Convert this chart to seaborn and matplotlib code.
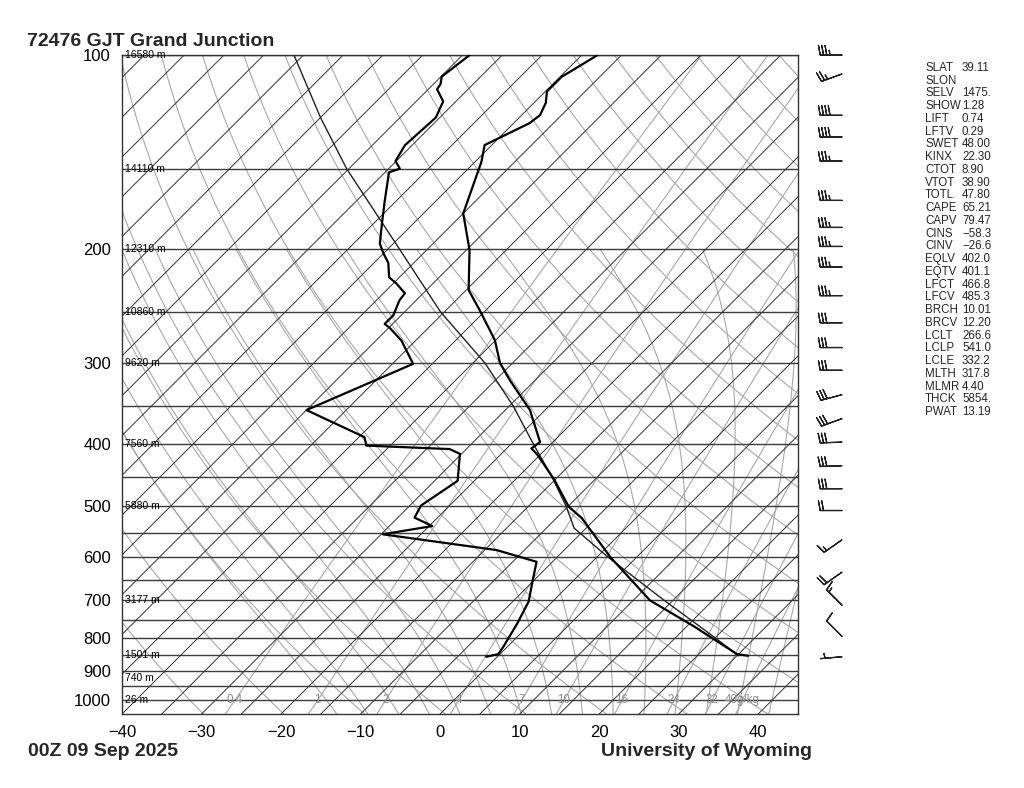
import numpy as np
import pandas as pd
import matplotlib
matplotlib.use('Agg')
import matplotlib.pyplot as plt
import seaborn as sns

sns.set_theme(style='white')
plt.rcParams['font.family'] = ['Liberation Sans', 'DejaVu Sans']

# sounding (pressure hPa, temperature C)
temp_p = [853, 848, 768, 700, 600, 522, 501, 455, 416, 407, 398, 355, 319, 300, 276.6,
          248.9, 231.3, 200.6, 176, 146.4, 137.9, 127.5, 123.9, 118.7, 113.9, 108.1, 100]
temp_t = [31.4, 29.8, 20.9, 12.1, 1.7, -6.8, -9.9, -15.1, -20.4, -21.9, -21.6, -26.9, -33.2, -36.6, -40.1,
          -45.7, -49.7, -54.6, -60.0, -64.2, -65.9, -63.0, -62.7, -63.5, -64.8, -64.8, -63.0]

dwpt_p = [856, 848, 826, 759, 703, 653, 610, 585, 553, 537, 521, 499, 457, 415, 408, 403, 391,
          355, 301, 277, 265, 261, 253, 240, 234, 226, 221, 210, 203, 196, 181, 168, 152, 150,
          146, 138, 125, 118, 113, 111, 108, 106, 100]
dwpt_t = [-1.4, -0.2, -0.5, -1.7, -3.0, -5.1, -7.0, -13.5, -29.8, -24.6, -27.9, -28.6, -27.1, -30.2, -32.1, -43.0, -44.3,
          -55.0, -47.4, -51.8, -54.8, -56.0, -56.0, -57.1, -57.3, -59.6, -61.3, -63.2, -65.0, -66.7, -69.2, -71.5, -74.5, -73.6,
          -75.1, -75.9, -75.5, -76.6, -78.9, -79.1, -79.9, -79.7, -79.1]

# lifted parcel
parcel_p = [853, 800, 700, 600, 541, 500, 450, 400, 350, 300, 250, 200, 150, 125, 100]
parcel_t = [30.2, 25.0, 13.9, 1.4, -6.5, -10.3, -15.8, -22.3, -29.5, -38.5, -50.5, -63.5, -80.3, -90.0, -101.2]

# winds (hPa, deg, knots)
wind_p = [100, 107, 124, 134, 146, 168, 185, 198, 213, 236, 260, 284, 308, 336, 366, 398,
          433, 470, 508, 564, 633, 712, 796, 856]
wind_dir = [270, 250, 270, 270, 270, 270, 270, 270, 270, 270, 270, 270, 270, 255, 250, 268,
            268, 270, 270, 235, 235, 315, 315, 265]
wind_spd = [35, 25, 40, 40, 35, 35, 35, 35, 35, 35, 30, 30, 30, 30, 30, 30,
            30, 30, 20, 15, 20, 15, 10, 5]

height_p = [100, 150, 200, 250, 300, 400, 500, 700, 850, 925, 1000]
height_lbl = ['16580 m', '14110 m', '12310 m', '10860 m', '9620 m', '7560 m', '5880 m',
              '3177 m', '1501 m', '740 m', '26 m']

isobars = [100, 150, 200, 250, 300, 350, 400, 450, 500, 550, 600, 650, 700, 750, 800,
           850, 900, 950, 1000]
p_ticks = [100, 200, 300, 400, 500, 600, 700, 800, 900, 1000]
t_ticks = [-40, -30, -20, -10, 0, 10, 20, 30, 40]

mixr_vals = [0.4, 1, 2, 4, 7, 10, 16, 24, 32, 40]
mixr_lbls = ['0.4', '1', '2', '4', '7', '10', '16', '24', '32', '40g/kg']

dry_theta = np.arange(230, 470, 10)          # K
moist_tw = np.arange(-16, 44, 4)             # C at 1000 hPa

index_names = ['SLAT', 'SLON', 'SELV', 'SHOW', 'LIFT', 'LFTV', 'SWET', 'KINX', 'CTOT', 'VTOT',
               'TOTL', 'CAPE', 'CAPV', 'CINS', 'CINV', 'EQLV', 'EQTV', 'LFCT', 'LFCV', 'BRCH',
               'BRCV', 'LCLT', 'LCLP', 'LCLE', 'MLTH', 'MLMR', 'THCK', 'PWAT']
index_vals = ['39.11', '', '1475.', '1.28', '0.74', '0.29', '48.00', '22.30', '8.90', '38.90',
              '47.80', '65.21', '79.47', '\u221258.3', '\u221226.6', '402.0', '401.1', '466.8', '485.3', '10.01',
              '12.20', '266.6', '541.0', '332.2', '317.8', '4.40', '5854.', '13.19']

P_BOT, P_TOP = 1050, 100
X_MIN, X_MAX = -40, 45
SKEW = 81.1   # deg C of shift per decade of pressure (45 deg isotherms)


def skew_x(t, p):
    return np.asarray(t, dtype=float) + SKEW * np.log10(P_BOT / np.asarray(p, dtype=float))


def td_from_mixr(w, p):
    e = w * p / (622.0 + w)
    a = np.log(e / 6.112)
    return 243.5 * a / (17.67 - a)


def moist_adiabat(t0, p):
    # pseudo-adiabat from 1000 hPa, integrated both ways
    Rd, cp, Lv, eps = 287.04, 1005.7, 2.501e6, 0.622

    def dtdp(t, pp):
        es = 6.112 * np.exp(17.67 * (t - 273.15) / (t - 29.65))
        rs = eps * es / (pp - es)
        return (Rd * t + Lv * rs) / (pp * (cp + Lv * Lv * rs * eps / (Rd * t * t)))

    out = []
    for target in p:
        t = t0 + 273.15
        pp = 1000.0
        n = 60
        h = (target - pp) / n
        for _ in range(n):
            k1 = dtdp(t, pp)
            k2 = dtdp(t + 0.5 * h * k1, pp + 0.5 * h)
            k3 = dtdp(t + 0.5 * h * k2, pp + 0.5 * h)
            k4 = dtdp(t + h * k3, pp + h)
            t += h * (k1 + 2 * k2 + 2 * k3 + k4) / 6
            pp += h
        out.append(t - 273.15)
    return np.array(out)


fig = plt.figure(figsize=(10.24, 7.88), dpi=100)
ax = fig.add_axes([122 / 1024, 74 / 788, 676 / 1024, 659 / 788])
ax.set_yscale('log')

plevs = np.geomspace(P_BOT, P_TOP, 80)
grey = '#a8a8a8'

# isobars
for p in isobars:
    ax.axhline(p, color='#3c3c3c', lw=1.0, zorder=2)

# isotherms
for t in range(-125, 50, 5):
    ax.plot(skew_x([t, t], [P_BOT, P_TOP]), [P_BOT, P_TOP], color='#333333', lw=0.7, zorder=2)

# dry adiabats
for th in dry_theta:
    tt = th * (plevs / 1000.0) ** 0.286 - 273.15
    ax.plot(skew_x(tt, plevs), plevs, color=grey, lw=0.8, zorder=1)

# moist adiabats
mp = np.geomspace(P_BOT, 200, 30)
for tw in moist_tw:
    ax.plot(skew_x(moist_adiabat(tw, mp), mp), mp, color=grey, lw=0.8, zorder=1)

# mixing ratio lines
for w, lbl in zip(mixr_vals, mixr_lbls):
    td = td_from_mixr(w, plevs)
    ax.plot(skew_x(td, plevs), plevs, color=grey, lw=0.8, zorder=1)
    ax.text(skew_x(td_from_mixr(w, 1000), 1000), 1000, lbl, color='#8a8a8a', fontsize=8.3,
            ha='center', va='center', zorder=3)

# sounding
snd_t = pd.DataFrame({'x': skew_x(temp_t, temp_p), 'p': temp_p})
snd_d = pd.DataFrame({'x': skew_x(dwpt_t, dwpt_p), 'p': dwpt_p})
snd_pc = pd.DataFrame({'x': skew_x(parcel_t, parcel_p), 'p': parcel_p})
sns.lineplot(data=snd_pc, x='x', y='p', sort=False, estimator=None, color='#222222', lw=1.0, ax=ax, zorder=4)
sns.lineplot(data=snd_t, x='x', y='p', sort=False, estimator=None, color='black', lw=1.6, ax=ax, zorder=5)
sns.lineplot(data=snd_d, x='x', y='p', sort=False, estimator=None, color='black', lw=1.6, ax=ax, zorder=5)

# height labels
for p, lbl in zip(height_p, height_lbl):
    ax.text(0.004, p, lbl, transform=ax.get_yaxis_transform(), fontsize=7.5,
            ha='left', va='center', color='black', zorder=6)

ax.set_xlim(X_MIN, X_MAX)
ax.set_ylim(P_BOT, P_TOP)
ax.set_yticks(p_ticks)
ax.set_yticklabels([str(p) for p in p_ticks])
ax.yaxis.set_minor_locator(matplotlib.ticker.NullLocator())
ax.set_xticks(t_ticks)
ax.set_xticklabels([str(t).replace('-', '\u2212') for t in t_ticks])
ax.tick_params(axis='y', length=0, labelsize=12, pad=8, colors='black')
ax.tick_params(axis='x', length=0, labelsize=12, pad=8, colors='black')
ax.set_xlabel('')
ax.set_ylabel('')
for s in ax.spines.values():
    s.set_color('#333333')
    s.set_linewidth(1.0)

# wind barbs
axb = fig.add_axes([800 / 1024, 74 / 788, 80 / 1024, 659 / 788])
axb.set_yscale('log')
axb.set_ylim(P_BOT, P_TOP)
axb.set_xlim(0, 80)
axb.axis('off')
wd = np.deg2rad(wind_dir)
u = -np.array(wind_spd) * np.sin(wd)
v = -np.array(wind_spd) * np.cos(wd)
axb.barbs(np.full(len(wind_p), 42.0), wind_p, u, v, length=5.6, lw=0.9, color='#222222',
          sizes=dict(spacing=0.15, height=0.44, width=0.16, emptybarb=0.0), clip_on=False)

# titles
fig.text(27 / 1024, 1 - 41 / 788, '72476 GJT Grand Junction', fontsize=14, fontweight='bold',
         ha='left', va='center')
fig.text(28 / 1024, 1 - 751 / 788, '00Z 09 Sep 2025', fontsize=14, fontweight='bold',
         ha='left', va='center')
fig.text(812 / 1024, 1 - 751 / 788, 'University of Wyoming', fontsize=14, fontweight='bold',
         ha='right', va='center')

# stability indices
for i, (n, val) in enumerate(zip(index_names, index_vals)):
    y = 1 - (68 + i * 12.74) / 788
    fig.text(925 / 1024, y, n, fontsize=8.3, ha='left', va='center')
    fig.text(962 / 1024, y, val, fontsize=8.3, ha='left', va='center')

fig.savefig('out.png', dpi=100, facecolor='white')
